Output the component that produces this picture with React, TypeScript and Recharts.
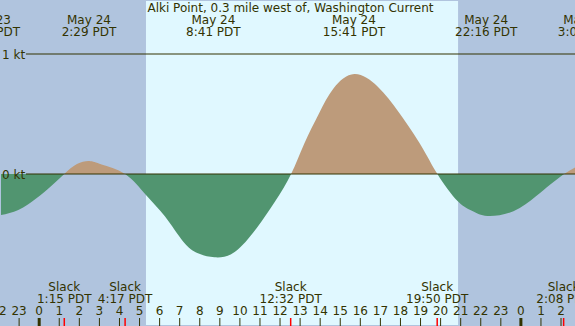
import * as React from 'react';
import { ComposedChart, Area, XAxis, YAxis, ReferenceArea, ReferenceLine } from 'recharts';

// hours since midnight May 24 (PDT), current speed in knots (+ flood, - ebb)
const hours = [-2.0, -1.04, -0.12, 0.6, 1.25, 1.88, 2.5, 3.11, 4.28, 5.32, 6.27, 7.18, 7.91, 8.73, 9.74, 10.84, 11.75, 12.55,
  13.21, 13.94, 14.67, 15.7, 16.87, 17.96, 19.06, 19.84, 20.87, 21.61, 22.33, 23.63, 24.72, 25.45, 26.15, 26.75];
const speeds = [-0.345, -0.3, -0.2, -0.1, 0, 0.083, 0.108, 0.08, 0, -0.175, -0.355, -0.564, -0.66, -0.694, -0.65, -0.45, -0.23, 0,
  0.255, 0.505, 0.714, 0.833, 0.728, 0.505, 0.228, 0, -0.23, -0.31, -0.35, -0.31, -0.19, -0.09, 0, 0.06];

// max flood / max ebb events (top labels)
const eventHours = [-2.5, 2.48, 8.68, 15.68, 22.27, 27.2];
const eventDates = ['May 23', 'May 24', 'May 24', 'May 24', 'May 24', 'May 25'];
const eventTimes = ['21:30 PDT', '2:29 PDT', '8:41 PDT', '15:41 PDT', '22:16 PDT', '3:05 PDT'];

// slack water
const slackHours = [1.25, 4.28, 12.53, 19.83, 26.13];
const slackTimes = ['1:15 PDT', '4:17 PDT', '12:32 PDT', '19:50 PDT', '2:08 PDT'];

const hourTicks = [-2, -1, 0, 1, 2, 3, 4, 5, 6, 7, 8, 9, 10, 11, 12, 13, 14, 15, 16, 17, 18, 19, 20, 21, 22, 23, 24, 25, 26];
const sunrise = 5.32;
const sunset = 20.87;

// axes take 1px each (an axis of size 0 is not drawn)
const X_DOMAIN: [number, number] = [-1.903, 26.696];
const Y_DOMAIN: [number, number] = [-1.2583, 1.4417];

const W = 575;
const H = 326;
const INK = '#333300';
const FONT = 'DejaVu Sans';

const data = hours.map((h, i) => ({ h, kt: speeds[i] }));
const zeroY = 1 + (H - 2) * (Y_DOMAIN[1] / (Y_DOMAIN[1] - Y_DOMAIN[0]));
const zeroOffset = zeroY / H;

const BottomTick = (props: any) => {
  const { x, payload } = props;
  const v = payload.value;
  const si = slackHours.indexOf(v);
  if (si >= 0) {
    return (
      <g>
        <text x={x} y={291} textAnchor="middle" fill={INK} fontSize={12} fontFamily={FONT}>Slack</text>
        <text x={x} y={303} textAnchor="middle" fill={INK} fontSize={12} fontFamily={FONT}>{slackTimes[si]}</text>
        <line x1={x} x2={x} y1={318} y2={326} stroke="#ff0000" strokeWidth={1.5} />
      </g>
    );
  }
  const label = ((v % 24) + 24) % 24;
  return (
    <g>
      <text x={x} y={315} textAnchor="middle" fill={INK} fontSize={12} fontFamily={FONT}>{label}</text>
      <line x1={x} x2={x} y1={318} y2={326} stroke={INK} strokeWidth={label === 0 ? 3 : 1} />
    </g>
  );
};

const TopTick = (props: any) => {
  const { x, payload } = props;
  const i = eventHours.indexOf(payload.value);
  if (i < 0) return <g />;
  return (
    <g>
      <text x={x} y={24} textAnchor="middle" fill={INK} fontSize={12} fontFamily={FONT}>{eventDates[i]}</text>
      <text x={x} y={36} textAnchor="middle" fill={INK} fontSize={12} fontFamily={FONT}>{eventTimes[i]}</text>
    </g>
  );
};

const KtTick = (props: any) => {
  const { y, payload } = props;
  return (
    <text x={2} y={y} dy={4.5} textAnchor="start" fill={INK} fontSize={12} fontFamily={FONT}>
      {payload.value} kt
    </text>
  );
};

export default function App() {
  return (
    <div style={{ position: 'absolute', left: 0, top: 0, width: W, height: H, background: '#b0c4de' }}>
      <ComposedChart width={W} height={H} data={data} margin={{ top: 0, right: 0, bottom: 0, left: 0 }}>
        <defs>
          <linearGradient id="split" x1={0} y1={0} x2={0} y2={H} gradientUnits="userSpaceOnUse">
            <stop offset={zeroOffset} stopColor="#bd9b7b" />
            <stop offset={zeroOffset} stopColor="#519570" />
          </linearGradient>
        </defs>
        <XAxis
          dataKey="h"
          type="number"
          domain={X_DOMAIN}
          allowDataOverflow
          ticks={[...hourTicks, ...slackHours]}
          interval={0}
          height={1}
          tickSize={0}
          tickMargin={0}
          axisLine={false}
          tickLine={false}
          tick={<BottomTick />}
        />
        <XAxis
          xAxisId="top"
          orientation="top"
          dataKey="h"
          type="number"
          domain={X_DOMAIN}
          allowDataOverflow
          ticks={eventHours}
          interval={0}
          height={1}
          tickSize={0}
          tickMargin={0}
          axisLine={false}
          tickLine={false}
          tick={<TopTick />}
        />
        <YAxis
          type="number"
          domain={Y_DOMAIN}
          allowDataOverflow
          ticks={[0, 1]}
          width={1}
          tickSize={0}
          tickMargin={0}
          axisLine={false}
          tickLine={false}
          tick={<KtTick />}
        />
        <ReferenceArea x1={sunrise} x2={sunset} fill="#e0f8ff" fillOpacity={1} stroke="none" />
        <ReferenceLine segment={[{ x: -0.66, y: 1 }, { x: X_DOMAIN[1], y: 1 }]} stroke={INK} strokeWidth={1} />
        <ReferenceLine segment={[{ x: -0.66, y: 0 }, { x: X_DOMAIN[1], y: 0 }]} stroke={INK} strokeWidth={1} />
        <Area
          type="natural"
          dataKey="kt"
          stroke="none"
          fill="url(#split)"
          fillOpacity={1}
          isAnimationActive={false}
          dot={false}
          activeDot={false}
        />
      </ComposedChart>
      <div
        style={{
          position: 'absolute', left: 0, top: 0.5, width: W, textAlign: 'center',
          font: `12px "${FONT}"`, lineHeight: '14px', color: INK, paddingLeft: 3,
        }}
      >
        Alki Point, 0.3 mile west of, Washington Current
      </div>
    </div>
  );
}
